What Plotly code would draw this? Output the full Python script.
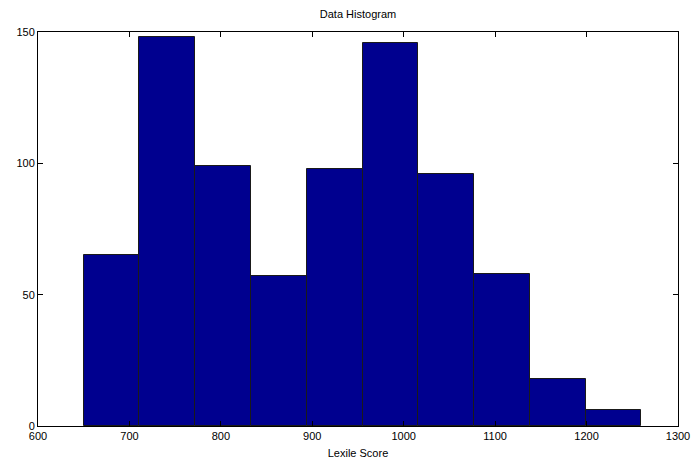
import plotly.graph_objects as go

counts = [65, 148, 99, 57, 98, 146, 96, 58, 18, 6]
bin_start = 650
bin_width = 61
x_ticks = [600, 700, 800, 900, 1000, 1100, 1200, 1300]
y_ticks = [0, 50, 100, 150]

centers = [bin_start + bin_width * (i + 0.5) for i in range(len(counts))]

fig = go.Figure(go.Bar(
    x=centers, y=counts, width=[bin_width] * len(counts),
    marker=dict(color="#00008F", line=dict(color="#1a1a1a", width=1)),
))

font = dict(family="Liberation Sans, Arial, sans-serif", size=11, color="black")
fig.update_layout(
    width=694, height=460,
    margin=dict(l=38, r=16, t=32, b=34, autoexpand=False),
    paper_bgcolor="white", plot_bgcolor="white",
    font=font, showlegend=False, bargap=0,
    title=dict(text="Data Histogram", x=0.5, xref="paper", xanchor="center",
               y=1 - 14 / 460, yref="container", yanchor="middle", font=dict(size=11)),
)
fig.update_xaxes(
    range=[600, 1300], tickvals=x_ticks, ticks="inside", ticklen=5,
    tickcolor="black", showline=True, linecolor="black", linewidth=1,
    mirror="allticks", showgrid=False, zeroline=False, automargin=False,
    title=dict(text="Lexile Score", standoff=8, font=dict(size=11)),
)
fig.update_yaxes(
    range=[0, 150], tickvals=y_ticks, ticks="inside", ticklen=5,
    tickcolor="black", showline=True, linecolor="black", linewidth=1,
    mirror="allticks", showgrid=False, zeroline=False, automargin=False,
)
fig.write_html(
    "out.html",
    config={"displayModeBar": False},
    post_script="document.body.style.margin='0px';document.body.style.overflow='hidden';",
)
